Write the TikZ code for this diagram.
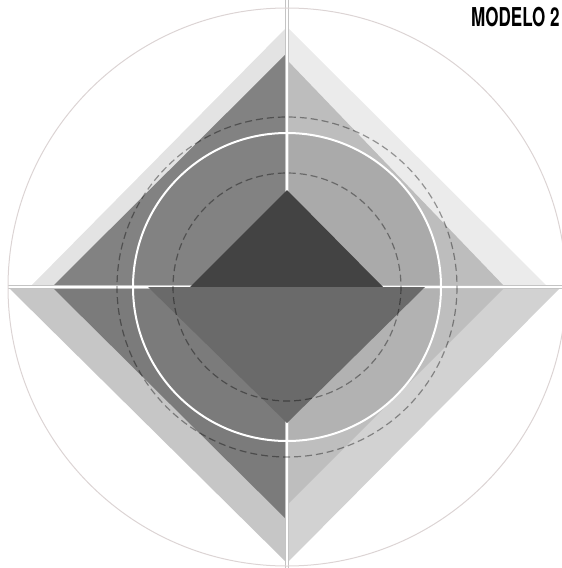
\documentclass[tikz,border=0pt]{standalone}
\usepackage{fontspec}
\setmainfont{TeX Gyre Heros}
\definecolor{tlband}{HTML}{E3E3E3}
\definecolor{tlin}{HTML}{828282}
\definecolor{trband}{HTML}{EBEBEB}
\definecolor{trin}{HTML}{BDBDBD}
\definecolor{trinc}{HTML}{AAAAAA}
\definecolor{blband}{HTML}{C6C6C6}
\definecolor{blin}{HTML}{7B7B7B}
\definecolor{brband}{HTML}{D2D2D2}
\definecolor{brin}{HTML}{BEBEBE}
\definecolor{brinc}{HTML}{B2B2B2}
\definecolor{topdark}{HTML}{434343}
\definecolor{lowmid}{HTML}{6A6A6A}
\definecolor{axisgray}{HTML}{C4C4C4}
\definecolor{ringgray}{HTML}{DCD4D4}
\begin{document}
\begin{tikzpicture}[x=1pt,y=-1pt,
  axisedge/.style={draw=axisgray,line width=3.2pt},
  axiscore/.style={draw=white,line width=1.6pt},
  dashring/.style={draw=black,draw opacity=0.38,line width=1.2pt,dash pattern=on 7pt off 4pt},
  whitering/.style={draw=white,line width=2pt},
  outerring/.style={draw=ringgray,line width=1pt}]
\useasboundingbox (0,0) rectangle (562,568);
\coordinate (c) at (287,287);
\coordinate (vt) at (287,0);
\coordinate (vb) at (287,568);
\coordinate (hl) at (8,287);
\coordinate (hr) at (562,287);
% quadrant bands
\fill[tlband] (c) -- (287,27) -- (30,287) -- cycle;
\fill[tlin] (c) -- (287,53) -- (52,287) -- cycle;
\fill[trband] (c) -- (287,27) -- (548,287) -- cycle;
\fill[trin] (c) -- (287,60) -- (505,287) -- cycle;
\fill[blband] (c) -- (8,287) -- (287,563) -- cycle;
\fill[blin] (c) -- (52,287) -- (287,520) -- cycle;
\fill[brband] (c) -- (561,287) -- (287,563) -- cycle;
\fill[brin] (c) -- (505,287) -- (287,505) -- cycle;
% inside the white ring
\begin{scope}
\clip (c) circle (154);
\fill[trinc] (c) -- (287,60) -- (505,287) -- cycle;
\fill[brinc] (c) -- (505,287) -- (287,505) -- cycle;
\end{scope}
% axes
\draw[axisedge] (vt) -- (vb);
\draw[axisedge] (hl) -- (hr);
\draw[axiscore] (vt) -- (vb);
\draw[axiscore] (hl) -- (hr);
% white ring
\draw[whitering] (c) circle (154);
% centre triangles
\fill[topdark] (287,190) -- (383,287) -- (190,287) -- cycle;
\fill[lowmid] (148,287) -- (425,287) -- (287,423) -- cycle;
% dashed rings
\draw[dashring] (c) circle (170);
\draw[dashring] (c) circle (114);
% outer ring
\draw[outerring] (c) circle (279);
% title
\node[anchor=west,inner sep=0pt,font=\fontsize{26}{26}\selectfont\bfseries] (title) at (471,17) {\scalebox{0.655}[1]{MODELO 2}};
\end{tikzpicture}
\end{document}
